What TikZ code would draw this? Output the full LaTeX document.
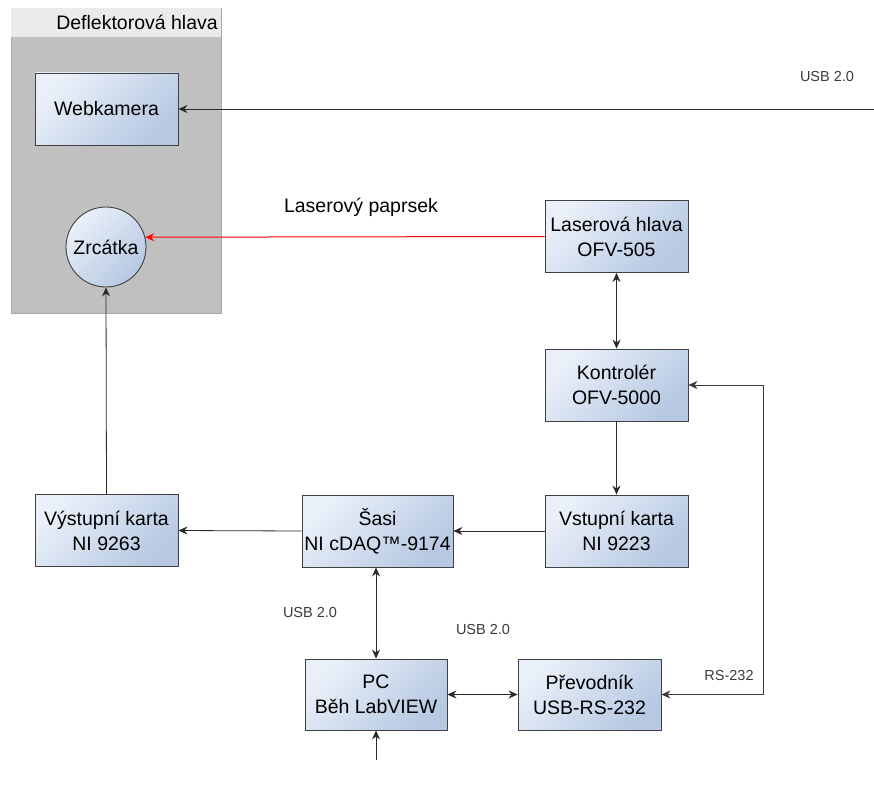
\documentclass[tikz,border=0pt]{standalone}
\usepackage{fontspec}
\setmainfont{Liberation Sans}
\usetikzlibrary{arrows.meta,shapes.geometric}
\definecolor{boxlight}{HTML}{EAF0F9}
\definecolor{boxdark}{HTML}{B6C8E2}
\definecolor{boxline}{HTML}{404040}
\definecolor{linec}{HTML}{2A2A2A}
\definecolor{contfill}{HTML}{C0C0C0}
\definecolor{contline}{HTML}{A8A8A8}
\definecolor{titlefill}{HTML}{EBEBEB}
\definecolor{labelc}{HTML}{3A3A3A}
\begin{document}
\begin{tikzpicture}[x=1pt,y=-1pt,
  blk/.style={draw=boxline, line width=0.9pt, top color=boxlight, bottom color=boxdark, shading angle=45,
    minimum width=143pt, minimum height=72pt, inner sep=0pt, align=center,
    font=\fontsize{19.5}{25}\selectfont},
  circ/.style={circle, draw=boxline, line width=0.9pt, top color=boxlight, bottom color=boxdark, shading angle=45,
    minimum size=80pt, inner sep=0pt, font=\fontsize{19.5}{25}\selectfont},
  conn/.style={draw=linec, line width=0.8pt, -{Stealth[length=9pt,width=8pt,inset=3pt]}},
  biconn/.style={draw=linec, line width=0.8pt, {Stealth[length=9pt,width=8pt,inset=3pt]}-{Stealth[length=9pt,width=8pt,inset=3pt]}},
  lbl/.style={text=labelc, font=\fontsize{14.5}{17}\selectfont, inner sep=0pt}
]
\useasboundingbox (0,0) rectangle (874,789);
\fill[white] (0,0) rectangle (874,789);
% container
\draw[contline, fill=contfill, line width=0.8pt] (11,8) rectangle (221,313);
\fill[titlefill] (11,8) rectangle (221,37);
\node[anchor=east, inner sep=0pt, font=\fontsize{19.5}{24}\selectfont] (title) at (218,22) {Deflektorová hlava};

% nodes
\node[blk] (web) at (106.5,109) {Webkamera};
\node[circ] (zrc) at (106,247) {Zrcátka};
\node[blk] (las) at (616.5,236.5) {Laserová hlava\\OFV-505};
\node[blk] (kon) at (616.5,385) {Kontrolér\\OFV-5000};
\node[blk] (vst) at (616.5,531) {Vstupní karta\\NI 9223};
\node[blk, minimum width=151pt] (sas) at (377.5,531) {Šasi\\NI cDAQ™-9174};
\node[blk] (vys) at (106.5,530.5) {Výstupní karta\\NI 9263};
\node[blk, minimum width=142pt, minimum height=71pt] (pc) at (376,694.5) {PC\\Běh LabVIEW};
\node[blk, minimum height=71pt] (pre) at (589.5,694.5) {Převodník\\USB-RS-232};

\coordinate (usbin) at (874,109);
\coordinate (pcin) at (376,760);
\coordinate (rsx) at (763,0);

% connectors
\draw[conn] (usbin) -- (web.east);
\draw[conn, draw=red, line width=1pt] (las.west) -- (zrc.14.5);
\draw[biconn] (las.south) -- (kon.north);
\draw[conn] (kon.south) -- (vst.north);
\draw[conn] (vst.west) -- (sas.east);
\draw[conn] (sas.west) -- (vys.east);
\draw[conn] (vys.north) -- (zrc.south);
\draw[biconn] (sas.south -| pc.north) -- (pc.north);
\draw[biconn] (pc.east) -- (pre.east -| pre.west);
\draw[conn] (pcin) -- (pc.south);
\draw[biconn, draw=labelc, line width=0.6pt] (kon.east) -- (kon.east -| rsx) -- (rsx |- pre.east) -- (pre.east);

% labels
\node[lbl] (l1) at (827,77) {USB 2.0};
\node[inner sep=0pt, font=\fontsize{19.5}{24}\selectfont] (l2) at (361,207) {Laserový paprsek};
\node[lbl] (l3) at (310,612) {USB 2.0};
\node[lbl] (l4) at (483,629) {USB 2.0};
\node[lbl] (l5) at (729,675) {RS-232};
\end{tikzpicture}
\end{document}
